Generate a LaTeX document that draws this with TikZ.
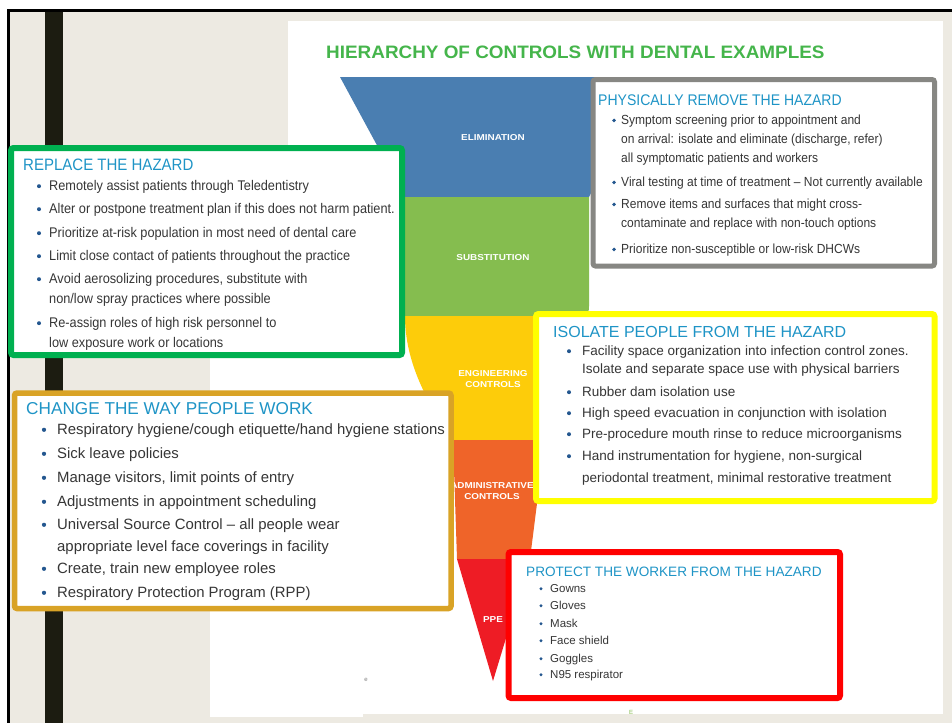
\documentclass[tikz,border=0pt]{standalone}
\usepackage{fontspec}
\setmainfont{Liberation Sans}
\newfontfamily\narrowsans[FakeStretch=0.91]{Liberation Sans}
\newfontfamily\widesans[FakeStretch=1.15]{Liberation Sans}
\newfontfamily\headsans[FakeStretch=1.05]{Liberation Sans}

\definecolor{beige}{HTML}{EDEAE2}
\definecolor{darkbar}{HTML}{1C1C11}
\definecolor{fblue}{HTML}{4A7EB1}
\definecolor{fgreen}{HTML}{85BD4F}
\definecolor{fyellow}{HTML}{FDCC0A}
\definecolor{forange}{HTML}{EF6429}
\definecolor{fred}{HTML}{EE1C25}
\definecolor{cgray}{HTML}{878783}
\definecolor{cgreen}{HTML}{00B050}
\definecolor{cyellow}{HTML}{FFFF00}
\definecolor{cgold}{HTML}{D9A326}
\definecolor{cred}{HTML}{FF0000}
\definecolor{headblue}{HTML}{1E94C6}
\definecolor{bodytext}{HTML}{363636}
\definecolor{bulletcol}{HTML}{24578F}
\definecolor{titlegreen}{HTML}{45B54B}

\tikzset{
  panel/.style={draw=#1, fill=white, rectangle, rounded corners=2.5pt,
    inner sep=0pt, outer sep=0pt},
  bandlabel/.style={text=white, inner sep=0pt,
    font=\widesans\bfseries\fontsize{8.6}{10}\selectfont, align=center},
  linetext/.style={anchor=base west, inner sep=0pt, text=bodytext},
  headtext/.style={anchor=base west, inner sep=0pt, text=headblue},
}

\begin{document}
\begin{tikzpicture}[x=1pt,y=-1pt]
\useasboundingbox (0,0) rectangle (952,723);

% page, frame and backdrop
\fill[white] (0,0) rectangle (952,723);
\fill[beige] (7,9) rectangle (952,723);
\fill[black] (7,8.5) rectangle (952,11.5);
\fill[black] (7,8.5) rectangle (9.5,723);
\fill[darkbar] (45,11.5) rectangle (63,723);

% white sheet
\fill[white] (288,21) rectangle (943,714);
\fill[white] (210,250) rectangle (363,717);

% title
\node[anchor=base west, inner sep=0pt, text=titlegreen,
  font=\headsans\bfseries\fontsize{18}{20}\selectfont] (title) at (326,58)
  {HIERARCHY OF CONTROLS WITH DENTAL EXAMPLES};

% funnel bands
\fill[fblue] (340,77) -- (650,77) -- (589,197) -- (405,197) -- cycle;
\fill[fgreen] (405,197) -- (589,197) -- (589,306)
  .. controls (589,312) .. (582,316) -- (405,316) -- cycle;
\fill[fyellow] (405,316) -- (585,316) -- (545,440) -- (453,440)
  .. controls (425,400) and (405,360) .. (405,316) -- cycle;
\fill[forange] (453,440) -- (545,440) -- (530,559) -- (457,559) -- cycle;
\fill[fred] (457,559) -- (530,559) -- (493,681) -- cycle;

\node[bandlabel] (elim) at (493,138) {ELIMINATION};
\node[bandlabel] (subst) at (493,258) {SUBSTITUTION};
\node[bandlabel] (engin) at (493,379) {ENGINEERING\\[1pt]CONTROLS};
\node[bandlabel] (admin) at (492,491) {ADMINISTRATIVE\\[1pt]CONTROLS};
\node[bandlabel] (ppe) at (493,620) {PPE};

% stray marks on the sheet
\node[inner sep=0pt, text=gray, font=\fontsize{6}{6}\selectfont] (marke) at (366,680) {e};
\node[inner sep=0pt, text=fgreen, font=\fontsize{6}{6}\selectfont] (markE) at (631,712) {E};

% ---------- physically remove the hazard ----------
\node[panel=cgray, line width=5pt, minimum width=341.5pt, minimum height=186.5pt]
  (removebox) at (763.75,172.75) {};
\node[headtext, font=\narrowsans\fontsize{15.4}{17}\selectfont] (removehead) at (598,105)
  {PHYSICALLY REMOVE THE HAZARD};
\foreach \yy/\bb/\txt [count=\i] in {
  124/1/{Symptom screening prior to appointment and},
  143/0/{on arrival: isolate and eliminate (discharge, refer)},
  162/0/{all symptomatic patients and workers},
  186/1/{Viral testing at time of treatment – Not currently available},
  208/1/{Remove items and surfaces that might cross-},
  227/0/{contaminate and replace with non-touch options},
  253/1/{Prioritize non-susceptible or low-risk DHCWs}} {
  \ifnum\bb=1 \fill[bulletcol] (614,\yy-3.6) circle (1.9); \fi
  \node[linetext, font=\narrowsans\fontsize{13.2}{15}\selectfont] (remove-\i) at (621,\yy) {\txt};
}

% ---------- replace the hazard ----------
\node[panel=cgreen, line width=6pt, minimum width=391pt, minimum height=207pt]
  (replacebox) at (206.5,251.5) {};
\node[headtext, font=\narrowsans\fontsize{16.5}{18}\selectfont] (replacehead) at (23,170)
  {REPLACE THE HAZARD};
\foreach \yy/\bb/\txt [count=\i] in {
  190/1/{Remotely assist patients through Teledentistry},
  213/1/{Alter or postpone treatment plan if this does not harm patient.},
  237/1/{Prioritize at-risk population in most need of dental care},
  260/1/{Limit close contact of patients throughout the practice},
  283/1/{Avoid aerosolizing procedures, substitute with},
  303/0/{non/low spray practices where possible},
  327/1/{Re-assign roles of high risk personnel to},
  347/0/{low exposure work or locations}} {
  \ifnum\bb=1 \fill[bulletcol] (39,\yy-3.8) circle (2); \fi
  \node[linetext, font=\narrowsans\fontsize{14}{16}\selectfont] (replace-\i) at (49,\yy) {\txt};
}

% ---------- isolate people from the hazard ----------
\node[panel=cyellow, line width=6pt, minimum width=398.5pt, minimum height=187pt]
  (isolatebox) at (735.25,407.5) {};
\node[headtext, font=\fontsize{16}{18}\selectfont] (isolatehead) at (553,337)
  {ISOLATE PEOPLE FROM THE HAZARD};
\foreach \yy/\bb/\txt [count=\i] in {
  355/1/{Facility space organization into infection control zones.},
  373/0/{Isolate and separate space use with physical barriers},
  396/1/{Rubber dam isolation use},
  417/1/{High speed evacuation in conjunction with isolation},
  438/1/{Pre-procedure mouth rinse to reduce microorganisms},
  460/1/{Hand instrumentation for hygiene, non-surgical},
  482/0/{periodontal treatment, minimal restorative treatment}} {
  \ifnum\bb=1 \fill[bulletcol] (569,\yy-3.8) circle (2); \fi
  \node[linetext, font=\fontsize{13.5}{15}\selectfont] (isolate-\i) at (582,\yy) {\txt};
}

% ---------- change the way people work ----------
\node[panel=cgold, line width=5.5pt, minimum width=436.5pt, minimum height=215.5pt]
  (changebox) at (232.75,500.75) {};
\node[headtext, font=\fontsize{17.2}{19}\selectfont] (changehead) at (26,414)
  {CHANGE THE WAY PEOPLE WORK};
\foreach \yy/\bb/\txt [count=\i] in {
  434/1/{Respiratory hygiene/cough etiquette/hand hygiene stations},
  458/1/{Sick leave policies},
  482/1/{Manage visitors, limit points of entry},
  506/1/{Adjustments in appointment scheduling},
  529/1/{Universal Source Control – all people wear},
  551/0/{appropriate level face coverings in facility},
  573/1/{Create, train new employee roles},
  597/1/{Respiratory Protection Program (RPP)}} {
  \ifnum\bb=1 \fill[bulletcol] (44,\yy-4.2) circle (2.1); \fi
  \node[linetext, font=\fontsize{14.9}{17}\selectfont] (change-\i) at (57,\yy) {\txt};
}

% ---------- protect the worker from the hazard ----------
\node[panel=cred, line width=6pt, minimum width=331.5pt, minimum height=146pt]
  (protectbox) at (674.25,625) {};
\node[headtext, font=\fontsize{13.6}{15}\selectfont] (protecthead) at (526,576)
  {PROTECT THE WORKER FROM THE HAZARD};
\foreach \yy/\txt [count=\i] in {
  592/{Gowns}, 609/{Gloves}, 627/{Mask}, 644/{Face shield},
  662/{Goggles}, 678/{N95 respirator}} {
  \fill[bulletcol] (541,\yy-3.3) circle (1.7);
  \node[linetext, font=\fontsize{11.5}{13}\selectfont] (protect-\i) at (550,\yy) {\txt};
}

\end{tikzpicture}
\end{document}
